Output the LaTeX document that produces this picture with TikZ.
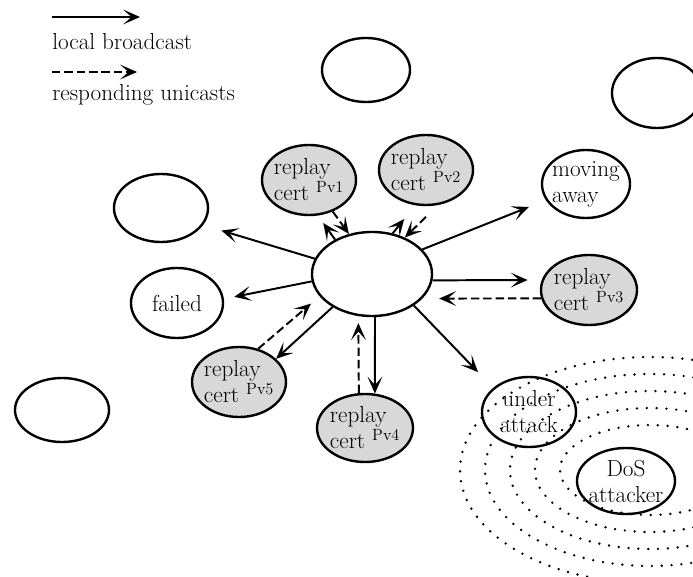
\documentclass[tikz,border=0pt]{standalone}
\usetikzlibrary{arrows.meta,shapes.geometric}
\definecolor{certgray}{RGB}{216,216,216}

\begin{document}
\begin{tikzpicture}[x=0.025cm,y=-0.025cm,>={Stealth[length=12pt,width=10.5pt,inset=6pt]},
  every node/.style={font=\fontsize{16.5}{18.5}\selectfont},
  peer/.style={draw,ellipse,line width=1.7pt,inner sep=-8pt},
  cert/.style={peer,fill=certgray,align=left,minimum width=2.35cm,minimum height=1.75cm},
  bcast/.style={->,line width=1.4pt},
  ucast/.style={->,line width=1.4pt,dash pattern=on 6pt off 2.8pt},
  ring/.style={line width=1.9pt,line cap=round,dash pattern=on 0pt off 7pt}]
\useasboundingbox (0,0) rectangle (693,577);

\begin{scope}
\clip (0,0) rectangle (693,577);
\foreach \rx/\ry in {90/45,115/62,140/79,165/96,190/113}
  \draw[ring] (650,470) ellipse ({\rx} and {\ry});
\end{scope}

\coordinate (bs) at (52,17);
\coordinate (be) at (140,17);
\coordinate (us) at (52,72);
\coordinate (ue) at (137,72);
\draw[bcast] (bs) -- (be);
\draw[ucast] (us) -- (ue);
\node[anchor=base west,inner sep=0pt] (lb) at (52,50) {local broadcast};
\node[anchor=base west,inner sep=0pt] (lu) at (52,101) {responding unicasts};

\node[peer,minimum width=3cm,minimum height=2.1cm] (c) at (372,274) {};
\node[peer,minimum width=2.2cm,minimum height=1.6cm] (e0) at (366,70) {};
\node[peer,minimum width=2.25cm,minimum height=1.75cm] (e2) at (657,93) {};
\node[peer,minimum width=2.35cm,minimum height=1.7cm] (e1) at (161,208) {};
\node[peer,minimum width=2.35cm,minimum height=1.6cm] (e3) at (62,410) {};
\node[peer,minimum width=2.3cm,minimum height=1.75cm] (fl) at (177,303) {failed};
\node[peer,align=left,minimum width=2.2cm,minimum height=1.7cm] (ma) at (586,184) {moving\\away};
\node[peer,align=center,minimum width=2.35cm,minimum height=1.75cm] (ua) at (529,412) {under\\attack};
\node[peer,align=center,minimum width=2.45cm,minimum height=1.65cm] (dos) at (626,481) {DoS\\attacker};

\node[cert] (p1) at (309,180) {replay\\cert \textsuperscript{Pv1}};
\node[cert] (p2) at (426,170) {replay\\cert \textsuperscript{Pv2}};
\node[cert,minimum width=2.4cm] (p3) at (589,290) {replay\\cert \textsuperscript{Pv3}};
\node[cert,minimum width=2.4cm,minimum height=1.7cm] (p4) at (365,428) {replay\\cert \textsuperscript{Pv4}};
\node[cert] (p5) at (239,382) {replay\\cert \textsuperscript{Pv5}};

\draw[bcast,shorten >=13.5pt] (c.165) -- (e1.-22);
\draw[bcast,shorten >=7.5pt] (c.187) -- (fl.5);
\draw[bcast] (c.220) -- (p5.32);
\draw[ucast,shorten >=8pt] (p5.60) -- (c.203);
\draw[bcast] (c.274) -- (p4.74);
\draw[ucast,shorten >=5pt] (p4.100) -- (c.252);
\draw[bcast,shorten >=15.5pt] (c.323) -- (ua.146);
\draw[bcast,shorten >=10pt] (c.-6) -- (p3.168);
\draw[ucast,shorten >=12pt] (p3.190) -- (c.334);
\draw[bcast,shorten >=13pt] (c.26) -- (ma.202);
\draw[bcast,shorten >=12.5pt] (c.63) -- (p2.253);
\draw[ucast,shorten <=12pt] (p2.289) -- (c.48);
\draw[bcast,shorten >=6.5pt] (c.137) -- (p1.284);
\draw[ucast] (p1.307) -- (c.120);
\end{tikzpicture}
\end{document}
